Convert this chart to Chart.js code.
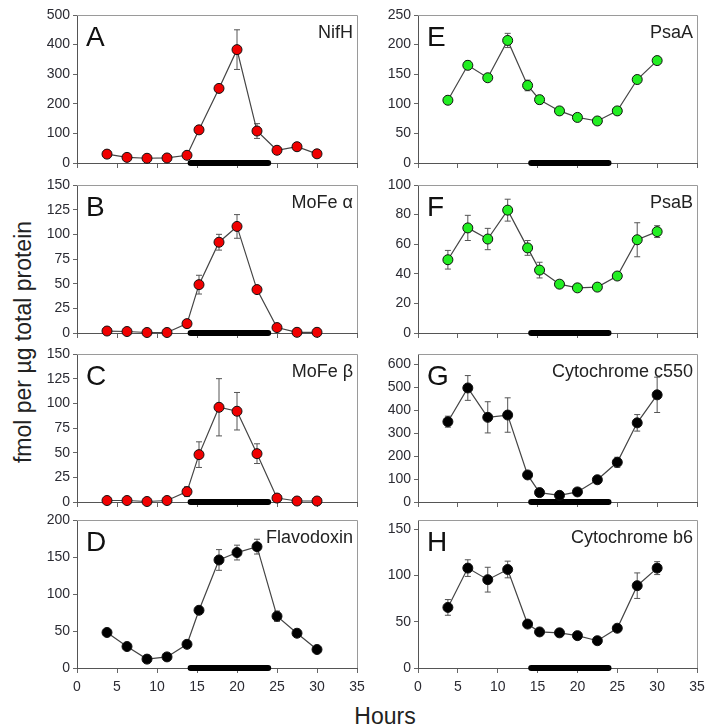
<!DOCTYPE html>
<html><head><meta charset="utf-8">
<script src="https://cdn.jsdelivr.net/npm/chart.js@4/dist/chart.umd.min.js"></script>
<style>
html,body{margin:0;padding:0;background:#fff;}
#wrap{position:relative;width:708px;height:728px;overflow:hidden;font-family:'Liberation Sans',Arial,sans-serif;background:#fff;}
canvas{position:absolute;}
#ytitle{position:absolute;left:23px;top:342px;transform:translate(-50%,-50%) rotate(-90deg);white-space:nowrap;font-size:23px;color:#222;}
#xtitle{position:absolute;left:385px;top:716px;transform:translate(-50%,-50%);white-space:nowrap;font-size:23px;color:#222;}
</style></head><body>
<div id="wrap">
  <div id="ytitle">fmol per µg total protein</div>
  <div id="xtitle">Hours</div>
</div>
<script>
// ---- data ----
const hours = [3.75, 6.25, 8.75, 11.25, 13.75, 15.25, 17.75, 20, 22.5, 25, 27.5, 30];
const darkPeriod = [14.2, 23.9];
const xTicks = [0, 5, 10, 15, 20, 25, 30, 35];

const nifH    = [30, 19, 16, 17, 26, 112, 252, 383, 108, 43, 55, 31];
const nifHErr = [3, 2, 2, 2, 3, 8, 12, 67, 25, 4, 4, 3];

const mofeAlpha    = [2, 1.5, 0.5, 0.5, 9.5, 49, 92, 108, 44, 5.5, 0.7, 0.7];
const mofeAlphaErr = [0.5, 0.5, 0.3, 0.3, 1, 9.5, 8, 12, 3, 1, 0.3, 0.3];

const mofeBeta    = [1.5, 1.5, 0.5, 1.5, 10.5, 48, 96, 92, 49, 4, 1, 1];
const mofeBetaErr = [0.5, 0.5, 0.3, 0.5, 5, 13, 29, 19, 10, 1, 0.3, 0.3];

const flavodoxin    = [48, 29, 12, 15, 32, 78, 146, 156, 164, 70, 47, 25];
const flavodoxinErr = [2, 2, 1.5, 1.5, 2, 3, 14, 10, 10, 7, 2, 1.5];

const psaA    = [106, 165, 144, 207, 131, 107, 88, 77, 71, 88, 141, 173];
const psaAErr = [3, 7, 3, 12, 9, 7, 4, 3, 3, 3, 3, 3];

const psaB    = [49.5, 71, 63.5, 83, 57.5, 42.5, 33, 30.5, 31, 38.5, 63, 68.5];
const psaBErr = [6.3, 8.5, 7.2, 7.4, 5, 5.3, 2, 1.5, 2, 1.5, 11.5, 4];

const cytC550    = [350, 497, 369, 379, 118, 41, 29, 44, 97, 173, 345, 467];
const cytC550Err = [24, 54, 68, 75, 8, 5, 5, 5, 8, 22, 36, 77];

const cytB6    = [65.5, 108, 95.5, 106.5, 47.5, 39, 38, 35, 29.5, 43, 89, 108];
const cytB6Err = [8.5, 9, 13.4, 9, 2, 2, 2, 2, 2, 2, 13.8, 7];

// ---- panels ----
const RED = '#f00000', GREEN = '#22ee22', BLACK = '#000000';
const panels = [
  {letter:'A', title:'NifH',            vals:nifH,       errs:nifHErr,       col:0, row:0, max:500, step:100, fill:RED},
  {letter:'B', title:'MoFe α',          vals:mofeAlpha,  errs:mofeAlphaErr,  col:0, row:1, max:150, step:25,  fill:RED},
  {letter:'C', title:'MoFe β',          vals:mofeBeta,   errs:mofeBetaErr,   col:0, row:2, max:150, step:25,  fill:RED},
  {letter:'D', title:'Flavodoxin',      vals:flavodoxin, errs:flavodoxinErr, col:0, row:3, max:200, step:50,  fill:BLACK},
  {letter:'E', title:'PsaA',            vals:psaA,       errs:psaAErr,       col:1, row:0, max:250, step:50,  fill:GREEN},
  {letter:'F', title:'PsaB',            vals:psaB,       errs:psaBErr,       col:1, row:1, max:100, step:20,  fill:GREEN},
  {letter:'G', title:'Cytochrome c550', vals:cytC550,    errs:cytC550Err,    col:1, row:2, max:645, step:100, fill:BLACK},
  {letter:'H', title:'Cytochrome b6',   vals:cytB6,      errs:cytB6Err,      col:1, row:3, max:160, step:50,  fill:BLACK}
];

// ---- layout ----
const rowTops = [15, 185, 354, 520];
const plotH = 148;
const PADT = 13;
const colPlot = [{left:77, right:357, canvasLeft:0}, {left:418, right:697, canvasLeft:365}];
const FONT = "'Liberation Sans', Arial, sans-serif";
const TXT = '#2b2b33';

const errPlugin = {
  id:'errbars',
  beforeDatasetsDraw(chart, args, opts){
    const ctx = chart.ctx, xs = chart.scales.x, ys = chart.scales.y;
    const ds = chart.data.datasets[0].data;
    const a = chart.chartArea;
    ctx.save();
    ctx.lineWidth = 1;
    ctx.strokeStyle = '#9a9a9a';
    ctx.beginPath();
    ctx.moveTo(a.left, a.top + 0.5); ctx.lineTo(a.right + 0.5, a.top + 0.5); ctx.lineTo(a.right + 0.5, a.bottom);
    ctx.stroke();
    ctx.strokeStyle = '#555';
    ds.forEach((p, i) => {
      const e = opts.errs[i];
      const x = xs.getPixelForValue(p.x);
      const y1 = ys.getPixelForValue(p.y + e), y2 = ys.getPixelForValue(Math.max(0, p.y - e));
      ctx.beginPath();
      ctx.moveTo(x, y1); ctx.lineTo(x, y2);
      ctx.moveTo(x - 3, y1); ctx.lineTo(x + 3, y1);
      ctx.moveTo(x - 3, y2); ctx.lineTo(x + 3, y2);
      ctx.stroke();
    });
    ctx.restore();
  }
};

const decorPlugin = {
  id:'decor',
  afterDraw(chart, args, opts){
    const ctx = chart.ctx, a = chart.chartArea;
    ctx.save();
    ctx.fillStyle = '#111';
    ctx.textBaseline = 'alphabetic';
    ctx.font = '28px ' + FONT;
    ctx.textAlign = 'left';
    ctx.fillText(opts.letter, a.left + 9, a.top + 31);
    ctx.fillStyle = '#222';
    ctx.font = '18px ' + FONT;
    ctx.textAlign = 'right';
    ctx.fillText(opts.title, a.right - 4, a.top + 23);
    ctx.restore();
  }
};

const wrap = document.getElementById('wrap');
panels.forEach(p => {
  const c = colPlot[p.col];
  const bottom = p.row === 3;
  const xh = bottom ? 34 : 13;
  const padR = 20;
  const yw = c.left - c.canvasLeft;
  const W = c.right - c.canvasLeft + padR;
  const cv = document.createElement('canvas');
  const H = PADT + plotH + xh;
  cv.width = W; cv.height = H;
  cv.style.left = c.canvasLeft + 'px'; cv.style.top = (rowTops[p.row] - PADT) + 'px';
  cv.style.width = W + 'px'; cv.style.height = H + 'px';
  wrap.appendChild(cv);
  new Chart(cv, {
    type:'line',
    data:{datasets:[
      {data: hours.map((h, i) => ({x:h, y:p.vals[i]})), borderColor:'#444', borderWidth:1.2,
       pointRadius:5, pointBackgroundColor:p.fill, pointBorderColor:'#111', pointBorderWidth:1,
       clip:false, order:0},
      {data: [{x:darkPeriod[0], y:0}, {x:darkPeriod[1], y:0}], borderColor:'#000', borderWidth:6,
       borderCapStyle:'round', pointRadius:0, clip:false, order:1}
    ]},
    options:{
      responsive:false, animation:false, events:[], devicePixelRatio:1,
      layout:{padding:{left:0, right:padR, top:PADT, bottom:0}},
      plugins:{legend:{display:false}, tooltip:{enabled:false},
        errbars:{errs:p.errs}, decor:{letter:p.letter, title:p.title}},
      scales:{
        x:{type:'linear', min:0, max:35,
           afterBuildTicks: s => { s.ticks = xTicks.map(v => ({value:v})); },
           ticks:{display:bottom, color:TXT, font:{family:FONT, size:14}, padding:6, maxRotation:0, autoSkip:false},
           grid:{drawOnChartArea:false, drawTicks:true, tickLength:5, color:'#666'},
           border:{display:true, color:'#555', width:1},
           afterFit: s => { s.height = xh; }},
        y:{min:0, max:p.max,
           ticks:{stepSize:p.step, includeBounds:false, color:TXT, font:{family:FONT, size:14}, padding:3},
           grid:{drawOnChartArea:false, drawTicks:true, tickLength:4, color:'#666'},
           border:{display:true, color:'#555', width:1},
           afterFit: s => { s.width = yw; }}
      }
    },
    plugins:[errPlugin, decorPlugin]
  });
});
</script>
</body></html>
